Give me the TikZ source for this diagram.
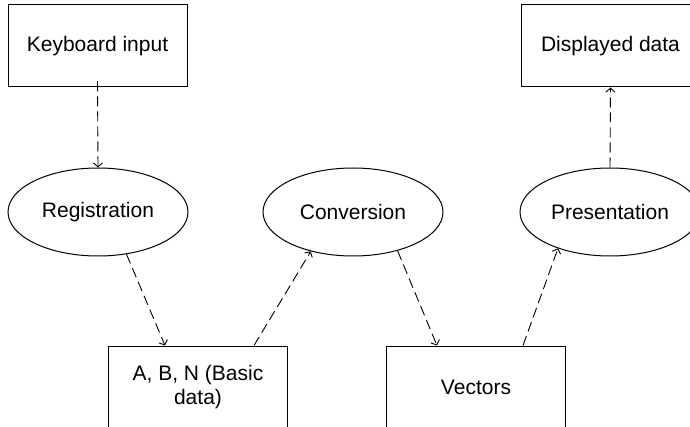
\documentclass[tikz,border=0pt]{standalone}
\usepackage{fontspec}
\setmainfont{Liberation Sans}
\usetikzlibrary{shapes.geometric,arrows.meta}
\begin{document}
\begin{tikzpicture}[x=1pt,y=-1pt,
  every node/.style={font=\fontsize{21}{24.5}\selectfont},
  boxnode/.style={draw,line width=1pt,minimum width=179pt,minimum height=82pt,inner sep=0pt,align=center},
  ellnode/.style={draw,ellipse,line width=1pt,minimum width=180pt,minimum height=88pt,inner sep=0pt},
  flow/.style={line width=0.9pt,dash pattern=on 10pt off 5pt,-{Straight Barb[length=4pt,width=9pt]}}]
\useasboundingbox (0,0) rectangle (690,427);
\node[boxnode] (kb) at (97.5,46) {Keyboard input};
\node[boxnode] (disp) at (610.5,46) {Displayed data};
\node[ellnode] (reg) at (98,212) {Registration};
\node[ellnode] (conv) at (353,212) {Conversion};
\node[ellnode] (pres) at (610,212) {Presentation};
\node[boxnode] (abn) at (198,387) {A, B, N (Basic\\data)};
\node[boxnode] (vec) at (476,387) {Vectors};
\draw[flow] ([yshift=6pt]kb.south) -- (reg.north);
\draw[flow] (reg.-56) -- ([xshift=-33pt]abn.north);
\draw[flow] ([xshift=56pt]abn.north) -- (conv.-137);
\draw[flow] (conv.-41) -- ([xshift=-39pt]vec.north);
\draw[flow] ([xshift=47pt]vec.north) -- (pres.-145);
\draw[flow] (pres.north) -- (disp.south);
\end{tikzpicture}
\end{document}
